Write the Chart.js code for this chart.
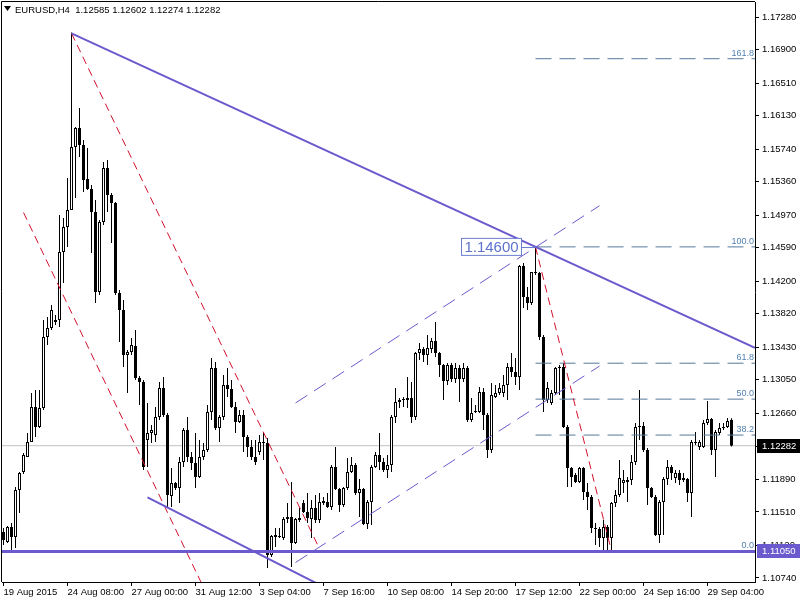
<!DOCTYPE html>
<html>
<head>
<meta charset="utf-8">
<script src="https://cdn.jsdelivr.net/npm/chart.js@4.4.1/dist/chart.umd.min.js"></script>
<style>
html, body { margin: 0; padding: 0; background: #fff; }
canvas { display: block; }
</style>
</head>
<body>
<canvas id="grafico" width="800" height="600"></canvas>
<script>
// ===== titulo =====
const tituloSimbolo = "EURUSD,H4  1.12585 1.12602 1.12274 1.12282";

// ===== velas H4 (indice 0 = 19 Aug 2015) =====
const abertura = [
  1.11276,1.11159,1.11334,1.11218,1.11766,1.11975,1.12150,1.12325,1.12733,1.12500,
  1.12722,1.13549,1.13654,1.13724,1.13747,1.14540,1.14832,1.15030,1.15764,1.15986,
  1.15788,1.15391,1.15275,1.15007,1.14074,1.14890,1.15520,1.15205,1.15111,1.14062,
  1.13864,1.13339,1.13374,1.13444,1.13071,1.13025,1.12349,1.12430,1.12407,1.12617,
  1.12955,1.12640,1.11696,1.11847,1.11789,1.12092,1.12465,1.12150,1.12080,1.11917,
  1.12150,1.12232,1.12675,1.13188,1.12488,1.12617,1.12990,1.12943,1.12733,1.12558,
  1.12640,1.12384,1.12267,1.12150,1.12209,1.12314,1.12314,1.11008,1.11218,1.11218,
  1.11206,1.11428,1.11451,1.11148,1.11416,1.11614,1.11509,1.11428,1.11556,1.11416,
  1.11614,1.11626,1.11567,1.12034,1.11777,1.11591,1.11789,1.11975,1.12057,1.11731,
  1.11777,1.11369,1.11626,1.12034,1.12174,1.12092,1.11999,1.12057,1.12617,1.12792,
  1.12815,1.12815,1.12838,1.12617,1.13363,1.13409,1.13339,1.13409,1.13503,1.13363,
  1.13223,1.13036,1.13223,1.13060,1.13188,1.13060,1.13188,1.12582,1.12675,1.12675,
  1.12908,1.12640,1.12232,1.12850,1.12896,1.12896,1.12990,1.13200,1.13141,1.13083,
  1.14377,1.14016,1.13946,1.14307,1.14295,1.13549,1.12815,1.12780,1.12896,1.13188,
  1.13200,1.12500,1.12022,1.11940,1.11859,1.12022,1.11742,1.11684,1.11323,1.11311,
  1.11206,1.11334,1.11206,1.11614,1.11707,1.11847,1.11859,1.11882,1.12092,1.12500,
  1.12512,1.12232,1.11789,1.11684,1.11241,1.11626,1.11894,1.12034,1.11906,1.11964,
  1.11882,1.11894,1.11731,1.12314,1.12267,1.12267,1.12547,1.12593,1.12232,1.12430,
  1.12488,1.12500,1.12585
];
const maxima = [
  1.11323,1.11346,1.11381,1.11801,1.11975,1.12197,1.12430,1.12896,1.12931,1.12931,
  1.13747,1.13782,1.13922,1.13806,1.14972,1.14937,1.15403,1.17100,1.15997,1.16219,
  1.15846,1.15753,1.15321,1.15146,1.14913,1.15589,1.15613,1.15228,1.15123,1.14097,
  1.13981,1.13398,1.13538,1.13631,1.13095,1.13048,1.12780,1.12523,1.12733,1.13025,
  1.13083,1.12663,1.12022,1.11859,1.12150,1.12488,1.12617,1.12209,1.12430,1.12349,
  1.12314,1.12757,1.13304,1.13258,1.12640,1.13106,1.13188,1.13048,1.12792,1.12698,
  1.12698,1.12407,1.12349,1.12349,1.12407,1.12430,1.12372,1.11241,1.11323,1.11323,
  1.11451,1.11614,1.11859,1.11439,1.11556,1.11649,1.11731,1.11649,1.11707,1.11731,
  1.11684,1.11731,1.12057,1.12267,1.11789,1.11801,1.12139,1.12150,1.12080,1.11894,
  1.11789,1.11649,1.12057,1.12209,1.12430,1.12139,1.12174,1.12640,1.12955,1.12838,
  1.12850,1.13083,1.13025,1.13374,1.13479,1.13433,1.13573,1.13538,1.13724,1.13374,
  1.13235,1.13246,1.13246,1.13246,1.13223,1.13246,1.13211,1.12838,1.12757,1.12966,
  1.12955,1.12663,1.13013,1.12990,1.13013,1.13106,1.13246,1.13363,1.13304,1.14389,
  1.14412,1.14132,1.14307,1.14600,1.14307,1.13573,1.13025,1.12931,1.13200,1.13223,
  1.13246,1.12523,1.12034,1.11964,1.12034,1.12034,1.11847,1.11707,1.11381,1.11334,
  1.11416,1.11358,1.11626,1.11766,1.12115,1.11999,1.11917,1.12174,1.12547,1.12931,
  1.12558,1.12255,1.11801,1.11707,1.11649,1.11917,1.12115,1.12057,1.11999,1.11999,
  1.11964,1.11906,1.12349,1.12442,1.12349,1.12582,1.12803,1.12605,1.12465,1.12547,
  1.12547,1.12605,1.12602
];
const minimas = [
  1.11124,1.11148,1.11066,1.11089,1.11497,1.11952,1.12150,1.12325,1.12384,1.12488,
  1.12698,1.13456,1.13631,1.13689,1.13666,1.14179,1.14599,1.15030,1.15170,1.15648,
  1.15240,1.15263,1.14529,1.13946,1.14039,1.14855,1.15007,1.14645,1.14039,1.13491,
  1.13200,1.12896,1.13339,1.13048,1.12757,1.11999,1.12034,1.12314,1.12325,1.12582,
  1.12617,1.11567,1.11567,1.11766,1.11614,1.12034,1.12092,1.11999,1.11789,1.11906,
  1.12115,1.12209,1.12582,1.12465,1.12325,1.12582,1.12850,1.12722,1.12430,1.12547,
  1.12209,1.12150,1.12115,1.12057,1.12174,1.12115,1.10856,1.10985,1.11101,1.11206,
  1.11183,1.11381,1.10868,1.11136,1.11393,1.11497,1.11381,1.11206,1.11381,1.11381,
  1.11591,1.11556,1.11532,1.11766,1.11509,1.11567,1.11766,1.11964,1.11707,1.11451,
  1.11358,1.11311,1.11358,1.12022,1.11999,1.11975,1.11906,1.11975,1.12547,1.12722,
  1.12733,1.12722,1.12547,1.12582,1.13281,1.13258,1.13223,1.13363,1.13316,1.13083,
  1.12815,1.12990,1.13025,1.13013,1.12792,1.13025,1.12558,1.12558,1.12663,1.12663,
  1.12465,1.12139,1.12197,1.12838,1.12873,1.12850,1.12815,1.13083,1.12990,1.12931,
  1.13887,1.13864,1.13922,1.14272,1.13514,1.12675,1.12780,1.12757,1.12873,1.12873,
  1.12488,1.11801,1.11801,1.11847,1.11847,1.11649,1.11532,1.11264,1.11124,1.11101,
  1.11066,1.11050,1.11066,1.11567,1.11684,1.11731,1.11626,1.11824,1.12057,1.12349,
  1.12209,1.11591,1.11672,1.11230,1.11148,1.11241,1.11824,1.11882,1.11847,1.11824,
  1.11859,1.11626,1.11451,1.12290,1.12232,1.12255,1.12523,1.12174,1.11917,1.12407,
  1.12465,1.12488,1.12274
];
const fechamento = [
  1.11183,1.11334,1.11218,1.11766,1.11964,1.12174,1.12325,1.12733,1.12500,1.12722,
  1.13549,1.13654,1.13864,1.13747,1.14540,1.14832,1.15030,1.15764,1.15986,1.15788,
  1.15380,1.15275,1.15007,1.14074,1.14890,1.15520,1.15205,1.15111,1.14062,1.13864,
  1.13339,1.13374,1.13456,1.13071,1.13025,1.12034,1.12430,1.12465,1.12617,1.12955,
  1.12640,1.11707,1.11847,1.11789,1.12092,1.12465,1.12150,1.12080,1.11917,1.12150,
  1.12232,1.12675,1.13188,1.12488,1.12617,1.12990,1.12943,1.12733,1.12558,1.12640,
  1.12384,1.12267,1.12150,1.12092,1.12325,1.12325,1.11008,1.11229,1.11241,1.11229,
  1.11428,1.11451,1.11148,1.11428,1.11439,1.11509,1.11439,1.11556,1.11416,1.11626,
  1.11637,1.11567,1.12034,1.11777,1.11591,1.11789,1.11975,1.12057,1.11731,1.11777,
  1.11369,1.11626,1.12034,1.12174,1.12092,1.11999,1.12057,1.12617,1.12792,1.12815,
  1.12827,1.12838,1.12617,1.13363,1.13409,1.13339,1.13421,1.13503,1.13363,1.13223,
  1.13036,1.13223,1.13060,1.13188,1.13060,1.13188,1.12582,1.12663,1.12687,1.12908,
  1.12640,1.12232,1.12873,1.12896,1.12955,1.12990,1.13200,1.13141,1.13083,1.14377,
  1.14016,1.13946,1.14307,1.14295,1.13549,1.12815,1.12955,1.12896,1.13188,1.13200,
  1.12500,1.12022,1.11917,1.11859,1.12022,1.11742,1.11684,1.11323,1.11311,1.11206,
  1.11334,1.11206,1.11614,1.11707,1.11906,1.11882,1.11882,1.12092,1.12500,1.12512,
  1.12232,1.11789,1.11684,1.11241,1.11626,1.11894,1.12034,1.11964,1.11964,1.11882,
  1.11906,1.11731,1.12325,1.12325,1.12325,1.12547,1.12593,1.12232,1.12442,1.12488,
  1.12500,1.12570,1.12282
];

// ===== eixos =====
const rotulosTempoIndice = [0, 16, 32, 48, 64, 80, 96, 112, 128, 144, 160, 176];
const rotulosTempo = ["19 Aug 2015", "24 Aug 08:00", "27 Aug 00:00", "31 Aug 12:00", "3 Sep 04:00", "7 Sep 16:00",
                      "10 Sep 08:00", "14 Sep 20:00", "17 Sep 12:00", "22 Sep 00:00", "24 Sep 16:00", "29 Sep 04:00"];
const rotulosPreco = [1.17280, 1.16900, 1.16510, 1.16130, 1.15740, 1.15360, 1.14970, 1.14590, 1.14200,
                      1.13820, 1.13430, 1.13050, 1.12660, 1.12270, 1.11890, 1.11510, 1.11120, 1.10740];

// ===== objetos desenhados =====
const precoAtual = 1.12282;
const nivelSuporte = 1.11050;
const tendenciaPrincipal = [[17, 1.17090], [133, 1.14600]];
const tendenciaInferior = [[36, 1.11680], [63, 1.11040]];
const canalVermelhoA = [[17, 1.17090], [79, 1.11080]];
const canalVermelhoB = [[5, 1.15000], [50, 1.10630]];
const linhaFibo = [[133, 1.14600], [152, 1.11050]];
const canalAzulSup = [[73, 1.12780], [149, 1.15080]];
const canalAzulInf = [[73, 1.10920], [149, 1.13210]];
const fiboInicio = 133;
const fiboNiveis = [0, 38.2, 50, 61.8, 100, 161.8];
const rotuloPreco = 1.14600;

const X_MIN = -0.375, X_MAX = 187.875;
const AZUL = "#6a5acd", VERMELHO = "#d0102c", FIBO = "#55799c";
const FONTE = "'Liberation Sans', Arial, sans-serif";

function pontos(par) {
  return par.map(p => ({ x: p[0], y: p[1] }));
}
// raio: prolonga a linha ate a borda direita
function raio(par) {
  let [a, b] = par;
  let k = (b[1] - a[1]) / (b[0] - a[0]);
  return [{ x: a[0], y: a[1] }, { x: X_MAX, y: b[1] + k * (X_MAX - b[0]) }];
}
function linha(data, cor, largura, tracejado) {
  return {
    type: "line", data: data, borderColor: cor, borderWidth: largura,
    borderDash: tracejado || [], pointRadius: 0, fill: false, tension: 0, order: 1
  };
}

let pavios = abertura.map((o, i) => ({ x: i, y: [minimas[i], maxima[i]] }));
let corpos = abertura.map((o, i) => ({ x: i, y: [o, fechamento[i]] }));
let corCorpo = abertura.map((o, i) => fechamento[i] > o ? "#ffffff" : "#000000");

let precoFibo = fiboNiveis.map(n => linhaFibo[1][1] + (linhaFibo[0][1] - linhaFibo[1][1]) * n / 100);

let datasets = [
  linha([{ x: X_MIN, y: precoAtual }, { x: X_MAX, y: precoAtual }], "#c0c0c0", 1),
  {
    type: "bar", data: pavios, backgroundColor: "#000", borderWidth: 0,
    barThickness: 1, grouped: false, inflateAmount: 0, order: 5
  },
  {
    type: "bar", data: corpos, backgroundColor: corCorpo, borderColor: "#000", borderWidth: 1,
    borderSkipped: false, barThickness: 3, minBarLength: 1, grouped: false, inflateAmount: 0, order: 4
  },
  linha([{ x: X_MIN, y: nivelSuporte }, { x: X_MAX, y: nivelSuporte }], AZUL, 3),
  linha(raio(tendenciaPrincipal), AZUL, 2),
  linha(raio(tendenciaInferior), AZUL, 2),
  linha(pontos(canalVermelhoA), VERMELHO, 1, [8, 5]),
  linha(pontos(canalVermelhoB), VERMELHO, 1, [8, 5]),
  linha(pontos(linhaFibo), VERMELHO, 1, [8, 5]),
  linha(pontos(canalAzulSup), AZUL, 1, [14, 8]),
  linha(pontos(canalAzulInf), AZUL, 1, [14, 8])
];
datasets[0].order = 9;
precoFibo.forEach(p => {
  datasets.push(linha([{ x: fiboInicio, y: p }, { x: X_MAX, y: p }], FIBO, 1, [16, 8]));
});

// ===== textos e caixas =====
const extras = {
  id: "extras",
  afterDraw(chart) {
    let ctx = chart.ctx, a = chart.chartArea, ey = chart.scales.y, ex = chart.scales.x;
    ctx.save();

    // moldura
    ctx.strokeStyle = "#000"; ctx.lineWidth = 1;
    ctx.beginPath();
    ctx.moveTo(1.5, a.bottom); ctx.lineTo(1.5, 1.5); ctx.lineTo(a.right, 1.5);
    ctx.stroke();

    // titulo
    ctx.fillStyle = "#000";
    ctx.beginPath(); ctx.moveTo(4, 6); ctx.lineTo(11, 6); ctx.lineTo(7.5, 11); ctx.closePath(); ctx.fill();
    ctx.font = "9.5px " + FONTE;
    ctx.textBaseline = "middle"; ctx.textAlign = "left";
    ctx.fillText(tituloSimbolo, 15, 10);

    // rotulos fibo
    ctx.fillStyle = "#4f7fae"; ctx.textAlign = "right"; ctx.textBaseline = "bottom";
    ctx.font = "9px " + FONTE;
    fiboNiveis.forEach((n, i) => {
      ctx.fillText(n.toFixed(1), a.right - 1, ey.getPixelForValue(precoFibo[i]) - 1);
    });

    // caixa 1.14600
    let px = ex.getPixelForValue(fiboInicio), py = ey.getPixelForValue(rotuloPreco);
    ctx.strokeStyle = "#6a7fd0"; ctx.fillStyle = "#fff";
    ctx.fillRect(461.5, py - 8.5, 60, 17);
    ctx.strokeRect(461.5, py - 8.5, 60, 17);
    ctx.beginPath(); ctx.moveTo(521.5, Math.round(py) + 0.5); ctx.lineTo(px, Math.round(py) + 0.5); ctx.stroke();
    ctx.fillStyle = "#5c72cc"; ctx.font = "15px " + FONTE;
    ctx.textAlign = "center"; ctx.textBaseline = "middle";
    ctx.fillText(rotuloPreco.toFixed(5), 491.5, py + 1);

    // caixas de preco no eixo
    function caixa(preco, fundo) {
      let y = Math.round(ey.getPixelForValue(preco));
      ctx.fillStyle = fundo;
      ctx.fillRect(a.right + 2, y - 7, chart.width - a.right - 2, 14);
      ctx.fillStyle = "#fff"; ctx.font = "9.5px " + FONTE;
      ctx.textAlign = "left"; ctx.textBaseline = "middle";
      ctx.fillText(preco.toFixed(5), a.right + 7, y);
    }
    caixa(precoAtual, "#000");
    caixa(nivelSuporte, AZUL);
    ctx.restore();
  }
};

new Chart(document.getElementById("grafico"), {
  type: "bar",
  data: { datasets: datasets },
  options: {
    responsive: false,
    animation: false,
    devicePixelRatio: 1,
    events: [],
    layout: { padding: { left: 2, top: 2, right: 0, bottom: 0 } },
    plugins: { legend: { display: false }, tooltip: { enabled: false } },
    scales: {
      x: {
        type: "linear", min: X_MIN, max: X_MAX, offset: false,
        grid: { offset: false, drawOnChartArea: false, drawTicks: true, tickLength: 4, color: "#000" },
        border: { display: true, color: "#000" },
        afterBuildTicks: s => { s.ticks = rotulosTempoIndice.map(v => ({ value: v })); },
        afterFit: s => { s.height = 18; s.paddingLeft = 0; s.paddingRight = 0; },
        ticks: {
          autoSkip: false, maxRotation: 0, align: "start", padding: 1, color: "#000",
          font: { family: FONTE, size: 9.5 },
          callback: v => rotulosTempo[rotulosTempoIndice.indexOf(v)]
        }
      },
      y: {
        type: "linear", position: "right", min: 1.10693, max: 1.17455, beginAtZero: false,
        grid: { drawOnChartArea: false, drawTicks: true, tickLength: 4, color: "#000" },
        border: { display: true, color: "#000" },
        afterBuildTicks: s => { s.ticks = rotulosPreco.map(v => ({ value: v })); },
        afterFit: s => { s.width = 45; s.paddingTop = 0; s.paddingBottom = 0; },
        ticks: {
          padding: 3, color: "#000",
          font: { family: FONTE, size: 9.5 },
          callback: v => v.toFixed(5)
        }
      }
    }
  },
  plugins: [extras]
});
</script>
</body>
</html>
